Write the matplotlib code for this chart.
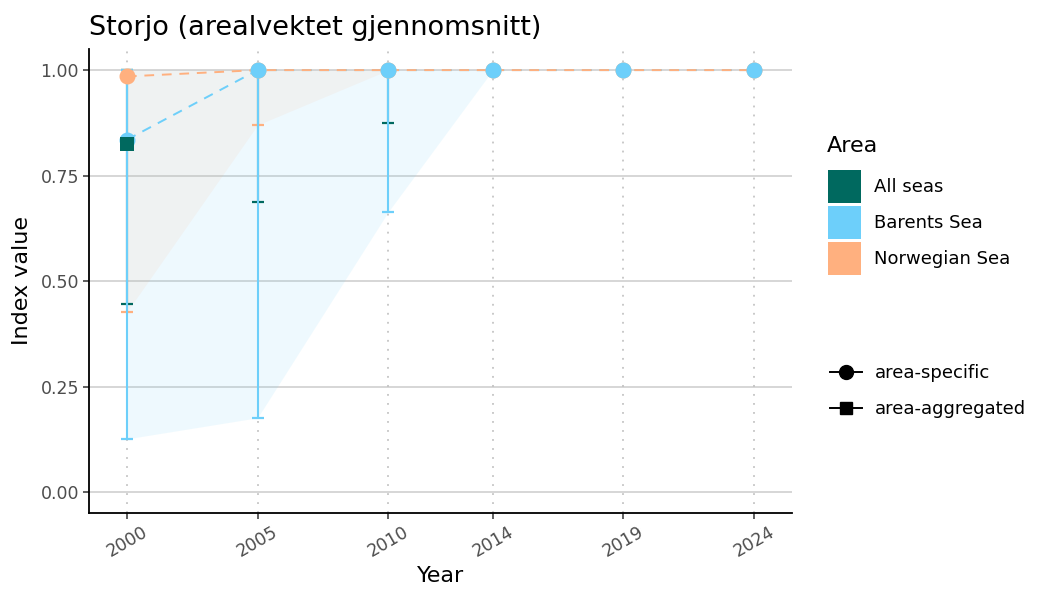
import numpy as np
import matplotlib
matplotlib.use("Agg")
import matplotlib.pyplot as plt
from matplotlib.patches import Patch
from matplotlib.lines import Line2D

# ---- data ----
years = [2000, 2005, 2010, 2014, 2019, 2024]

barents = [0.835, 1.0, 1.0, 1.0, 1.0, 1.0]
barents_lo = [0.126, 0.176, 0.664, 1.0, 1.0, 1.0]
barents_hi = [1.0, 1.0, 1.0, 1.0, 1.0, 1.0]

norwegian = [0.985, 1.0, 1.0, 1.0, 1.0, 1.0]
norwegian_lo = [0.427, 0.870, 1.0, 1.0, 1.0, 1.0]
norwegian_hi = [1.0, 1.0, 1.0, 1.0, 1.0, 1.0]

allseas = [0.826, np.nan, np.nan, np.nan, np.nan, np.nan]
allseas_lo = [0.445, 0.687, 0.875, np.nan, np.nan, np.nan]
allseas_hi = [1.0, 1.0, 1.0, np.nan, np.nan, np.nan]

area_labels = ["All seas", "Barents Sea", "Norwegian Sea"]
area_colors = ["#00695F", "#6DCFFA", "#FFB07F"]
type_labels = ["area-specific", "area-aggregated"]
yticks = [0.0, 0.25, 0.5, 0.75, 1.0]
ytick_labels = ["0.00", "0.25", "0.50", "0.75", "1.00"]

C_ALL, C_BAR, C_NOR = area_colors

fig = plt.figure(figsize=(10.5, 6), dpi=100)
ax = fig.add_axes([89.3/1050, 1 - 512.7/600, (791.7-89.3)/1050, (512.7-49)/600])

# ribbons
ax.fill_between(years, barents_lo, barents_hi, color=C_BAR, alpha=0.11, lw=0, zorder=1)
ax.fill_between(years, norwegian_lo, norwegian_hi, color=C_NOR, alpha=0.095, lw=0, zorder=1.1)

# grid
for yv in yticks:
    ax.axhline(yv, color="#CCCCCC", lw=1.1, zorder=0.5)
for xv in years:
    ax.axvline(xv, color="#BBBBBB", lw=1.1, ls=(0, (1.2, 4.7)), zorder=0.5)

# error bars
def errbars(lo, hi, color, z):
    ax.vlines(years, lo, hi, color=color, lw=1.5, zorder=z)
    ax.plot(years, lo, ls="none", marker="_", ms=9, mew=1.6, color=color, zorder=z)
    ax.plot(years, hi, ls="none", marker="_", ms=9, mew=1.6, color=color, zorder=z)

errbars(allseas_lo, allseas_hi, C_ALL, 2.0)
errbars(norwegian_lo, norwegian_hi, C_NOR, 2.1)
errbars(barents_lo, barents_hi, C_BAR, 2.2)

# lines
ax.plot(years, barents, color=C_BAR, lw=1.4, ls=(0, (5, 4)), zorder=3)
ax.plot(years, norwegian, color=C_NOR, lw=1.4, ls=(0, (5, 4)), zorder=3.1)

# points
ax.plot(years, norwegian, ls="none", marker="o", ms=11.5, color=C_NOR, mew=0, zorder=4)
ax.plot(years, barents, ls="none", marker="o", ms=11.5, color=C_BAR, mew=0, zorder=4.1)
ax.plot(years, allseas, ls="none", marker="s", ms=10, color=C_ALL, mew=0, zorder=4.2)

ax.set_xlim(1998.56, 2025.44)
ax.set_ylim(-0.049, 1.05)
ax.set_xticks(years)
ax.set_xticklabels([str(y) for y in years], rotation=30, ha="center")
ax.set_yticks(yticks)
ax.set_yticklabels(ytick_labels)
ax.tick_params(axis="both", labelsize=12.5, labelcolor="#4D4D4D", color="#333333", length=4, width=1.1)
for s in ["top", "right"]:
    ax.spines[s].set_visible(False)
for s in ["left", "bottom"]:
    ax.spines[s].set_linewidth(1.3)
ax.set_xlabel("Year", fontsize=16, labelpad=4)
ax.set_ylabel("Index value", fontsize=16, labelpad=6)
ax.set_title("Storjo (arealvektet gjennomsnitt)", loc="left", fontsize=19.5, pad=10)

# legends
fig.text(827/1050, 1 - 146/600, "Area", fontsize=16, va="center", ha="left")
h1 = [Patch(facecolor=c, edgecolor="none") for c in area_colors]
leg1 = fig.legend(h1, area_labels, loc="upper left",
                  bbox_to_anchor=(828/1050, 1 - 170/600), frameon=False, borderaxespad=0,
                  fontsize=13, handlelength=1.83, handleheight=2.43,
                  labelspacing=0.17, handletextpad=0.72, borderpad=0)
h2 = [Line2D([], [], color="black", marker="o", ms=10, lw=1.4),
      Line2D([], [], color="black", marker="s", ms=9, lw=1.4)]
leg2 = fig.legend(h2, type_labels, loc="upper left",
                  bbox_to_anchor=(830/1050, 1 - 364/600), frameon=False, borderaxespad=0,
                  fontsize=13, handlelength=1.78, labelspacing=1.02, handletextpad=0.72, borderpad=0)

fig.savefig("out.png", dpi=100)
